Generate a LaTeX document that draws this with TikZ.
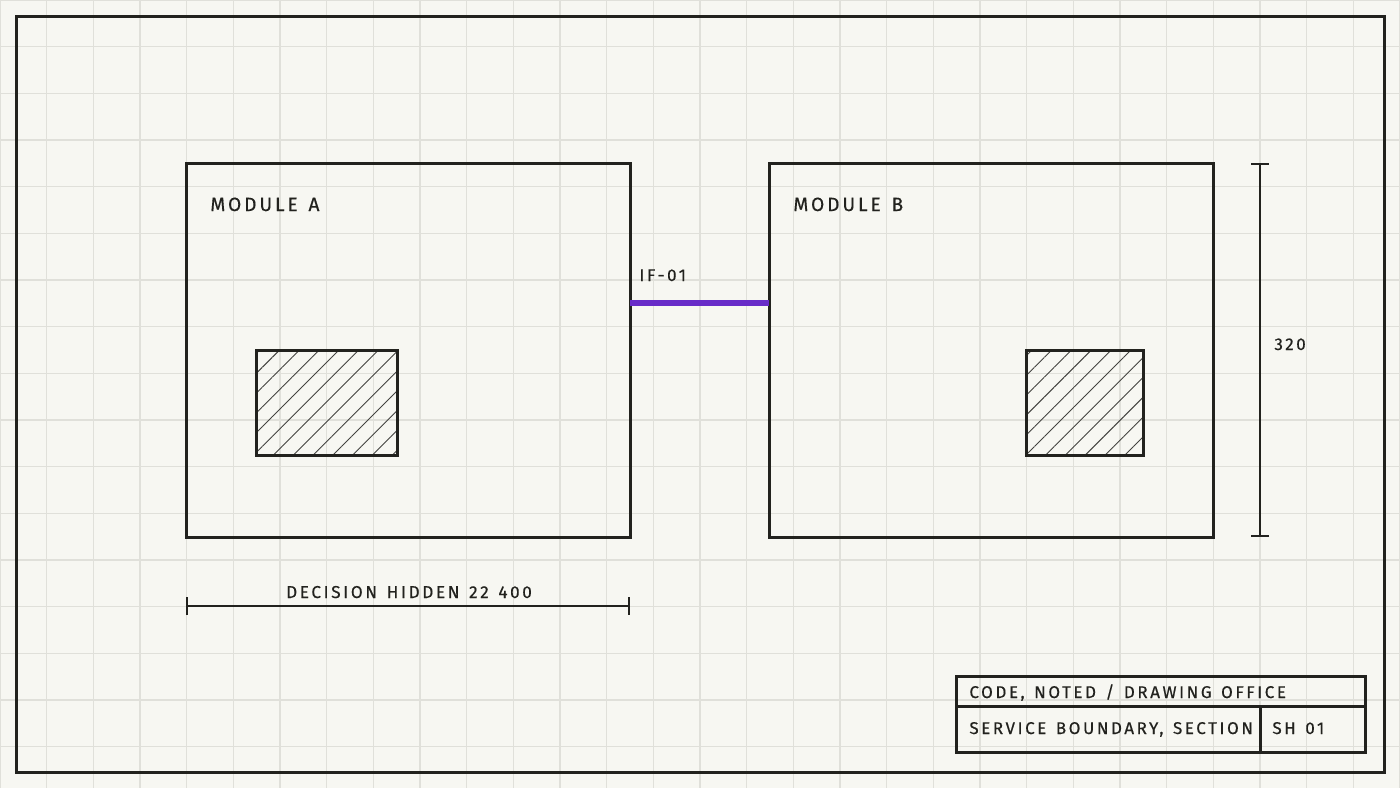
\documentclass[tikz,border=0pt]{standalone}
\usepackage{fontspec}
\setmainfont{Fira Sans}
\newfontfamily\drawfont[LetterSpace=15,WordSpace=1.35,FakeBold=0.4]{Fira Sans}
\usetikzlibrary{arrows.meta,patterns.meta}
\definecolor{paper}{RGB}{247,247,242}
\definecolor{gridline}{RGB}{224,224,218}
\definecolor{ink}{RGB}{34,34,30}
\definecolor{iflink}{RGB}{104,44,200}
\def\gridstep{46.667}
\tikzset{
  module/.style={draw=ink,line width=1.5pt,outer sep=0pt,inner sep=0pt,anchor=north west},
  hatchbox/.style={module,pattern={Lines[angle=45,distance=7pt,line width=0.45pt]},pattern color=ink!85},
  label/.style={text=ink,inner sep=0pt,anchor=base west,font=\drawfont\fontsize{9.6}{11}\selectfont},
  small/.style={label,font=\drawfont\fontsize{8.5}{10}\selectfont},
  dim/.style={draw=ink,line width=0.8pt,{Bar[width=9pt]}-{Bar[width=9pt]}},
}

\begin{document}
\begin{tikzpicture}[x=0.5pt,y=-0.5pt]

\useasboundingbox[fill=paper] (0,0) rectangle (1400,788);

% grid
\foreach \i in {0,...,30} \draw[gridline,line width=0.6pt] (\i*\gridstep,0) -- (\i*\gridstep,788);
\foreach \j in {0,...,16} \draw[gridline,line width=0.6pt] (0,\j*\gridstep) -- (1400,\j*\gridstep);

\draw[ink,line width=1.5pt] (16,16) rectangle (1384,772);

\node[module,minimum width=222pt,minimum height=187pt] (modA) at (186,163) {};
\node[module,minimum width=222pt,minimum height=187pt] (modB) at (769,163) {};

\node[hatchbox,minimum width=70.5pt,minimum height=52.5pt] (coreA) at (256,350) {};
\node[hatchbox,minimum width=58.5pt,minimum height=52.5pt] (coreB) at (1026,350) {};

\node[label] (labA) at (210,211) {MODULE A};
\node[label] (labB) at (793,211) {MODULE B};

\coordinate (ifrow) at (0,303);
\draw[iflink,line width=2.6pt] (modA.east |- ifrow) -- (modB.west |- ifrow);
\node[small] (iflabel) at (639,281) {IF-01};

% dimensions
\coordinate (dimrow) at (0,606);
\draw[dim] (modA.south west |- dimrow) -- (modA.south east |- dimrow);
\node[label,font=\drawfont\fontsize{8.6}{11}\selectfont,anchor=base] (dimtext) at (409,598) {DECISION HIDDEN 22 400};

\coordinate (dimcol) at (1260,0);
\draw[dim] (dimcol |- modB.north east) -- (dimcol |- modB.south east);
\node[small] (height) at (1274,350) {320};

% title block
\draw[ink,line width=1.5pt] (956,676) rectangle (1365,752);
\draw[ink,line width=1.5pt] (956,706) -- (1365,706);
\draw[ink,line width=1.5pt] (1260,706) -- (1260,752);
\node[small] (office) at (969,698) {CODE, NOTED / DRAWING OFFICE};
\node[small] (sheettitle) at (969,734) {SERVICE BOUNDARY, SECTION};
\node[small] (sheetno) at (1272,734) {SH 01};

\end{tikzpicture}
\end{document}
